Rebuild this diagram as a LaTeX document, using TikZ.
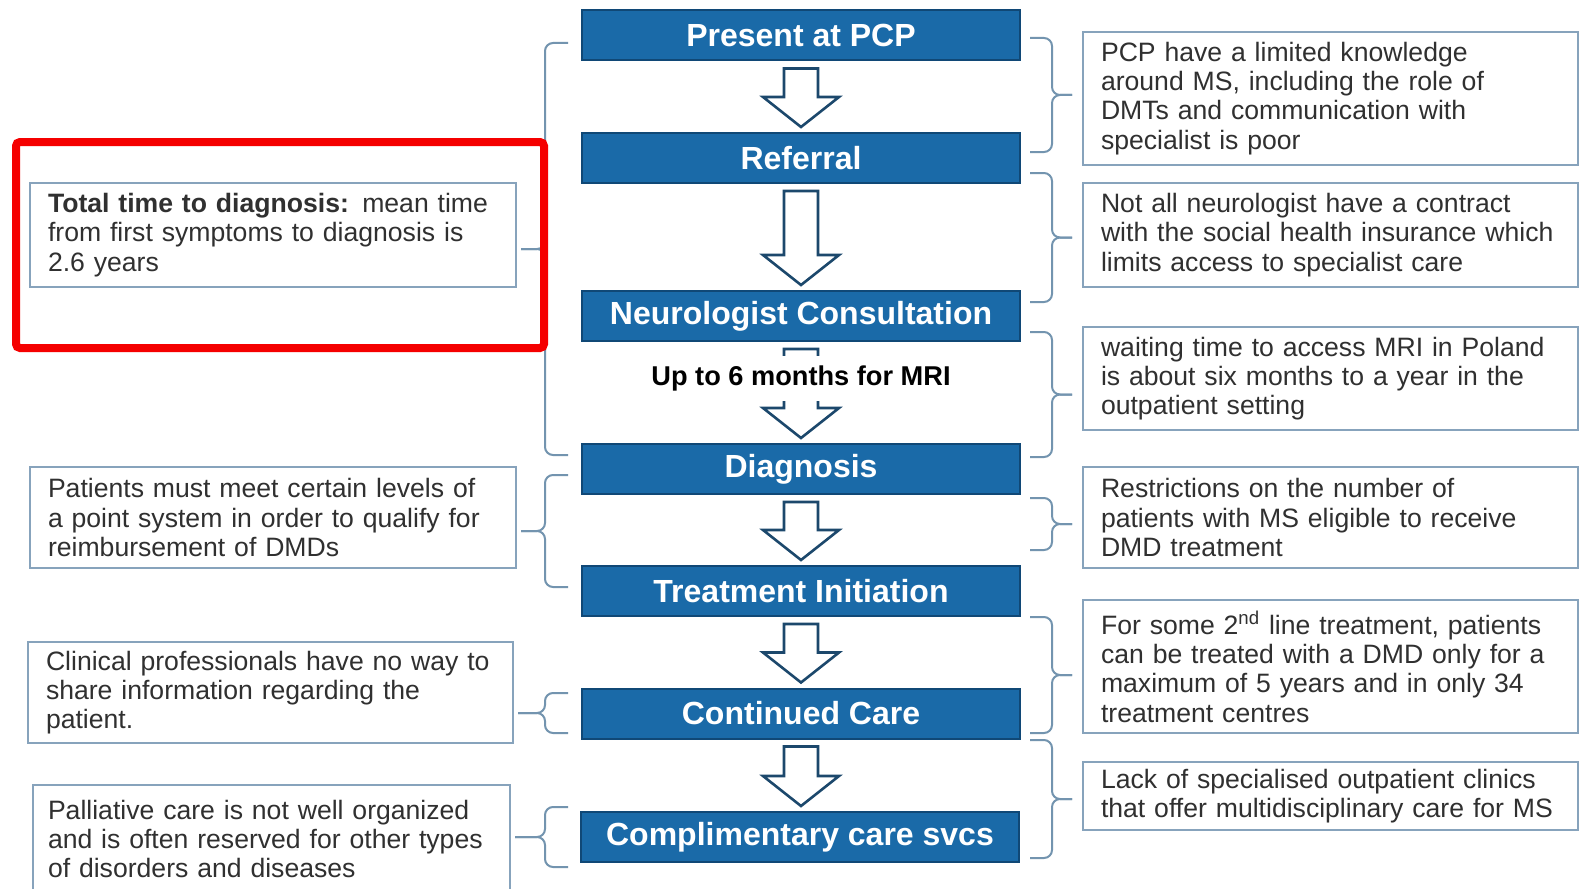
\documentclass[tikz,border=0pt]{standalone}
\usepackage{fontspec}
\setmainfont{Liberation Sans}
\usetikzlibrary{calc}
\definecolor{boxblue}{RGB}{26,106,168}
\definecolor{boxedge}{RGB}{16,72,118}
\definecolor{arrowedge}{RGB}{28,72,108}
\definecolor{notebrd}{RGB}{135,163,188}
\definecolor{bracecol}{RGB}{115,148,175}
\definecolor{textgray}{RGB}{48,48,48}
\definecolor{markred}{RGB}{245,0,0}
% one unbreakable line of a note
\newcommand\oneline[1]{\mbox{#1}}
% hollow block arrow between two stage boxes
\newcommand\flowarrow[2]{%
  \coordinate (fa-s) at ($(#1.south)+(0,7)$);
  \coordinate (fa-t) at ($(fa-s |- #2.north)+(0,-5)$);
  \draw[barrow] ($(fa-s)+(-17,0)$) -- ($(fa-s)+(17,0)$) -- ($(fa-t)+(17,-30)$)
    -- ($(fa-t)+(38,-30)$) -- (fa-t) -- ($(fa-t)+(-38,-30)$)
    -- ($(fa-t)+(-17,-30)$) -- cycle;}
\begin{document}
\begin{tikzpicture}[x=0.5pt,y=-0.5pt,
  stage/.style={draw=boxedge, fill=boxblue, line width=1pt, minimum width=219pt,
    minimum height=25pt, inner sep=0pt, text=white,
    font=\fontsize{16}{18}\selectfont\bfseries},
  note/.style={draw=notebrd, line width=1pt, text=textgray, align=left,
    inner xsep=9pt, inner ysep=0pt, font=\fontsize{13.3}{14.6}\selectfont},
  rnote/.style={note, text width=229.5pt},
  barrow/.style={draw=arrowedge, fill=white, line width=1.3pt, line join=miter},
  brc/.style={draw=bracecol, line width=1pt, rounded corners=4pt},
  mri/.style={fill=white, inner xsep=4pt, inner ysep=0pt, minimum height=22.5pt,
    font=\fontsize{13.6}{15}\selectfont\bfseries}]
\clip (0,0) rectangle (1582,888);
\fill[white] (0,0) rectangle (1582,888);

% process stages
\node[stage] (pcp) at (801,35.5) {Present at PCP};
\node[stage] (ref) at (801,158) {Referral};
\node[stage] (neu) at (801,316) {Neurologist Consultation};
\node[stage] (dia) at (801,469) {Diagnosis};
\node[stage] (tre) at (801,591) {Treatment Initiation};
\node[stage] (con) at (801,713.5) {Continued Care};
\node[stage] (com) at (800,837) {Complimentary care svcs};

% arrows between stages
\flowarrow{pcp}{ref}
\flowarrow{ref}{neu}
\flowarrow{neu}{dia}
\node[mri] (mritext) at (801,378) {Up to 6 months for MRI};
\flowarrow{dia}{tre}
\flowarrow{tre}{con}
\flowarrow{con}{com}

% barriers on the right
\node[rnote, minimum height=66.5pt] (n1) at (1330.5,98.5)
  {\oneline{PCP have a limited knowledge}\\\oneline{around MS, including the role of}\\\oneline{DMTs and communication with}\\\oneline{specialist is poor}};
\node[rnote, minimum height=52pt] (n2) at (1330.5,235)
  {\oneline{Not all neurologist have a contract}\\\oneline{with the social health insurance which}\\\oneline{limits access to specialist care}};
\node[rnote, minimum height=51.5pt] (n3) at (1330.5,378.5)
  {\oneline{waiting time to access MRI in Poland}\\\oneline{is about six months to a year in the}\\\oneline{outpatient setting}};
\node[rnote, minimum height=50.5pt] (n4) at (1330.5,517.5)
  {\oneline{Restrictions on the number of}\\\oneline{patients with MS eligible to receive}\\\oneline{DMD treatment}};
\node[rnote, minimum height=66.5pt] (n5) at (1330.5,666.5)
  {\oneline{For some 2\textsuperscript{nd} line treatment, patients}\\\oneline{can be treated with a DMD only for a}\\\oneline{maximum of 5 years and in only 34}\\\oneline{treatment centres}};
\node[rnote, minimum height=34pt] (n6) at (1330.5,796)
  {\oneline{Lack of specialised outpatient clinics}\\\oneline{that offer multidisciplinary care for MS}};

% barriers on the left
\node[note, text width=225pt, minimum height=52pt] (l1) at (273,235)
  {\oneline{\textbf{Total time to diagnosis:} mean time}\\\oneline{from first symptoms to diagnosis is}\\\oneline{2.6 years}};
\node[note, text width=225pt, minimum height=50.5pt] (l2) at (273,517.5)
  {\oneline{Patients must meet certain levels of}\\\oneline{a point system in order to qualify for}\\\oneline{reimbursement of DMDs}};
\node[note, text width=224.5pt, minimum height=50.5pt] (l3) at (270.5,692.5)
  {\oneline{Clinical professionals have no way to}\\\oneline{share information regarding the}\\\oneline{patient.}};
\node[note, inner xsep=7.5pt, text width=223.5pt, minimum height=54pt] (l4) at (271.5,839)
  {\oneline{Palliative care is not well organized}\\\oneline{and is often reserved for other types}\\\oneline{of disorders and diseases}};

% right braces: stage span -> barrier note
\foreach \t/\b/\n in {38/152/n1, 173/302/n2, 332/457/n3, 498/550/n4, 617/733/n5, 740/858/n6}{
  \pgfmathsetmacro\m{(\t+\b)/2}
  \draw[brc, shorten >=5pt] (1030,\t) -- (1052,\t) -- (1052,\m) -- (\n.west |- 0,\m);
  \draw[brc, shorten >=5pt] (1030,\b) -- (1052,\b) -- (1052,\m) -- (\n.west |- 0,\m);
}
% left braces: stage span -> barrier note
\foreach \t/\b/\n in {43/455/l1, 475/587/l2, 693/733/l3, 807/867/l4}{
  \pgfmathsetmacro\m{(\t+\b)/2}
  \draw[brc, shorten >=2pt] (568,\t) -- (545,\t) -- (545,\m) -- (\n.east |- 0,\m);
  \draw[brc, shorten >=2pt] (568,\b) -- (545,\b) -- (545,\m) -- (\n.east |- 0,\m);
}

% highlight frame
\draw[markred, line width=4pt, rounded corners=2pt] (16,142) rectangle (544,348);
\end{tikzpicture}
\end{document}
